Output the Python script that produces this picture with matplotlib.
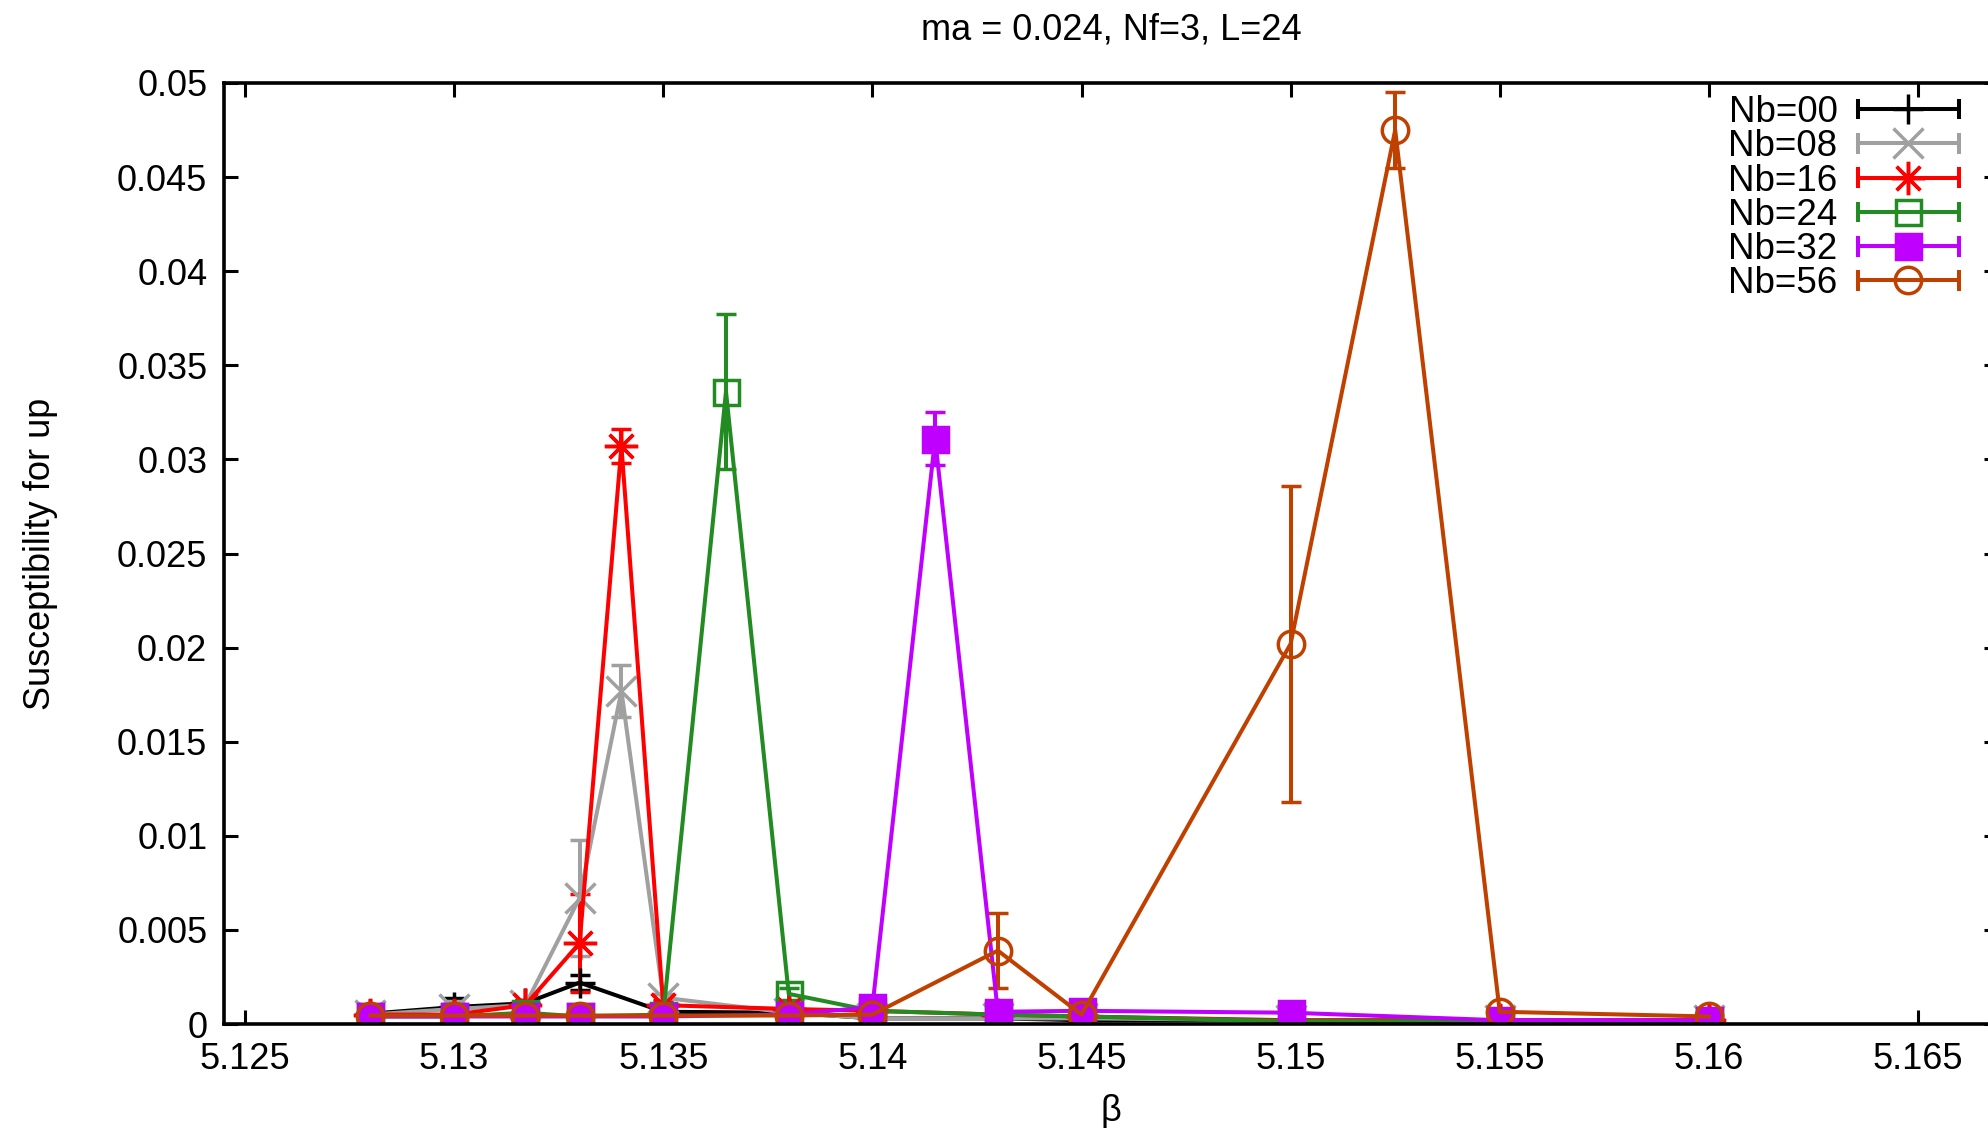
import matplotlib
matplotlib.use("Agg")
import matplotlib.pyplot as plt
from matplotlib.lines import Line2D
from matplotlib.legend_handler import HandlerBase
from matplotlib.container import ErrorbarContainer
from matplotlib.ticker import FixedLocator, FuncFormatter

plt.rcParams['font.family'] = ['Liberation Sans', 'DejaVu Sans']

# ---------------- data ----------------
title = "ma = 0.024, Nf=3, L=24"
xlabel = "β"
ylabel = "Susceptibility for up"
labels = ["Nb=00", "Nb=08", "Nb=16", "Nb=24", "Nb=32", "Nb=56"]

beta_00 = [5.128, 5.130, 5.1317, 5.133, 5.135, 5.138, 5.140, 5.143, 5.145, 5.150, 5.155, 5.160]
chi_00 = [0.00055, 0.0009, 0.0011, 0.0022, 0.00065, 0.0006, 0.0003, 0.0003, 0.0002, 0.0002, 0.0002, 0.0002]
err_00 = [0.0001, 0.0005, 0.0002, 0.0004, 0.0001, 0.0001, 0.0001, 0.0001, 0.0001, 0.0001, 0.0001, 0.0001]

beta_08 = [5.128, 5.130, 5.1317, 5.133, 5.134, 5.135, 5.138, 5.140, 5.143, 5.145, 5.150, 5.155, 5.160]
chi_08 = [0.0005, 0.0008, 0.0010, 0.0067, 0.0177, 0.0014, 0.0006, 0.0003, 0.0003, 0.0003, 0.0002, 0.0002, 0.0002]
err_08 = [0.0001, 0.0004, 0.0002, 0.0031, 0.0014, 0.0002, 0.0001, 0.0001, 0.0001, 0.0001, 0.0001, 0.0001, 0.0001]

beta_16 = [5.128, 5.130, 5.1317, 5.133, 5.134, 5.135, 5.138, 5.140, 5.143, 5.145, 5.150, 5.155, 5.160]
chi_16 = [0.0005, 0.0005, 0.0010, 0.0043, 0.0307, 0.0010, 0.0008, 0.0007, 0.0005, 0.0004, 0.0002, 0.0002, 0.0002]
err_16 = [0.0001, 0.0001, 0.0003, 0.0026, 0.0009, 0.0003, 0.0001, 0.0001, 0.0001, 0.0001, 0.0001, 0.0001, 0.0001]

beta_24 = [5.128, 5.130, 5.1317, 5.133, 5.135, 5.1365, 5.138, 5.140, 5.143, 5.145, 5.150, 5.155, 5.160]
chi_24 = [0.0004, 0.0004, 0.0006, 0.0004, 0.0005, 0.0336, 0.0016, 0.0007, 0.0005, 0.0004, 0.00015, 0.00015, 0.00015]
err_24 = [0.0001, 0.0001, 0.0001, 0.0001, 0.0001, 0.0041, 0.0003, 0.0001, 0.0001, 0.0001, 0.0001, 0.0001, 0.0001]

beta_32 = [5.128, 5.130, 5.1317, 5.133, 5.135, 5.138, 5.140, 5.1415, 5.143, 5.145, 5.150, 5.155, 5.160]
chi_32 = [0.0004, 0.0004, 0.0004, 0.0004, 0.0004, 0.0005, 0.0009, 0.0311, 0.00065, 0.0007, 0.0006, 0.0002, 0.0002]
err_32 = [0.0001, 0.0001, 0.0001, 0.0001, 0.0001, 0.0001, 0.0002, 0.0014, 0.0001, 0.0001, 0.0001, 0.0001, 0.0001]

beta_56 = [5.128, 5.130, 5.1317, 5.133, 5.135, 5.138, 5.140, 5.143, 5.145, 5.150, 5.1525, 5.155, 5.160]
chi_56 = [0.00045, 0.00045, 0.00045, 0.00045, 0.00045, 0.00045, 0.0005, 0.0039, 0.0005, 0.0202, 0.0475, 0.00065, 0.0004]
err_56 = [0.0001, 0.0001, 0.0001, 0.0001, 0.0001, 0.0001, 0.0001, 0.0020, 0.0001, 0.0084, 0.0020, 0.0001, 0.0001]

xticks = [5.125, 5.13, 5.135, 5.14, 5.145, 5.15, 5.155, 5.16, 5.165]
yticks = [0, 0.005, 0.01, 0.015, 0.02, 0.025, 0.03, 0.035, 0.04, 0.045, 0.05]

# ---------------- styles ----------------
series = [
    (beta_00, chi_00, err_00, "#000000", "+", 21, "none"),
    (beta_08, chi_08, err_08, "#a0a0a0", "x", 21, "none"),
    (beta_16, chi_16, err_16, "#ff0000", (8, 2, 0), 24, "none"),
    (beta_24, chi_24, err_24, "#228b22", "s", 18, "none"),
    (beta_32, chi_32, err_32, "#c000ff", "s", 18, "fill"),
    (beta_56, chi_56, err_56, "#c04000", "o", 19, "none"),
]

W, H = 1988, 1128
fig = plt.figure(figsize=(W / 100, H / 100), dpi=100)
ax_left, ax_right, ax_top, ax_bottom = 224, 1998, 83, 1024
ax = fig.add_axes([ax_left / W, 1 - ax_bottom / H, (ax_right - ax_left) / W, (ax_bottom - ax_top) / H])

LW = 2.9
containers = []
for (bx, by, be, col, mk, ms, fill), lab in zip(series, labels):
    mfc = col if fill == "fill" else "none"
    c = ax.errorbar(bx, by, yerr=be, color=col, marker=mk, ms=ms, mfc=mfc, mec=col,
                    mew=2.5, lw=LW, elinewidth=LW, capsize=7, capthick=LW, label=lab)
    containers.append(c)

px_per_unit = (1918 - 245) / 0.04
x0 = 5.125 - (245 - ax_left) / px_per_unit
x1 = 5.125 + (ax_right - 245) / px_per_unit
ax.set_xlim(x0, x1)
ax.set_ylim(0, 0.05)

fmt = FuncFormatter(lambda v, p: "%g" % round(v, 6))
ax.xaxis.set_major_locator(FixedLocator(xticks))
ax.yaxis.set_major_locator(FixedLocator(yticks))
ax.xaxis.set_major_formatter(fmt)
ax.yaxis.set_major_formatter(fmt)

ax.tick_params(direction="in", top=True, right=True, length=10, width=2.2,
               labelsize=26, colors="black")
ax.tick_params(axis="y", pad=12)
ax.tick_params(axis="x", pad=13)
for s in ax.spines.values():
    s.set_linewidth(2.6)

ax.set_title(title, fontsize=26, pad=31)
ax.set_xlabel(xlabel, fontsize=26)
ax.set_ylabel(ylabel, fontsize=26)
aw = ax_right - ax_left
ah = ax_bottom - ax_top
ax.yaxis.set_label_coords((58 - ax_left) / aw, 0.5)
ax.xaxis.set_label_coords(0.5, -(1094 - ax_bottom) / ah)


class HandlerKey(HandlerBase):
    def create_artists(self, legend, orig_handle, xdescent, ydescent, width, height, fontsize, trans):
        src = orig_handle.lines[0]
        col = src.get_color()
        lw = src.get_linewidth()
        y = height / 2 - ydescent
        xa = -xdescent
        xb = xa + width
        cap = 6.0
        arts = [
            Line2D([xa, xb], [y, y], color=col, lw=lw),
            Line2D([xa, xa], [y - cap, y + cap], color=col, lw=lw),
            Line2D([xb, xb], [y - cap, y + cap], color=col, lw=lw),
            Line2D([(xa + xb) / 2], [y], ls="none", marker=src.get_marker(),
                   ms=src.get_markersize(), mfc=src.get_markerfacecolor(),
                   mec=src.get_markeredgecolor(), mew=src.get_markeredgewidth()),
        ]
        for a in arts:
            a.set_transform(trans)
        return arts


leg = ax.legend(containers, labels, handler_map={ErrorbarContainer: HandlerKey()},
                loc="upper right", bbox_to_anchor=(1959 / W, 1 - 95 / H),
                bbox_transform=fig.transFigure, frameon=False, markerfirst=False,
                fontsize=26.5, handlelength=2.75, handletextpad=0.55, labelspacing=-0.02,
                borderpad=0, borderaxespad=0)

fig.savefig("out.png", dpi=100)
